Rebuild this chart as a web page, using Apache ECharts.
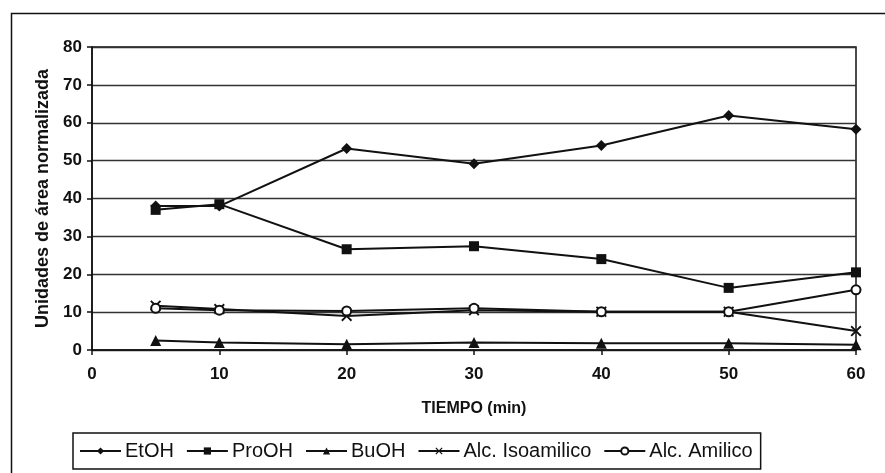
<!DOCTYPE html>
<html>
<head>
<meta charset="utf-8">
<script src="https://cdn.jsdelivr.net/npm/echarts@6/dist/echarts.min.js"></script>
<style>
html,body{margin:0;padding:0;background:#fff;}
#c{width:885px;height:473px;}
</style>
</head>
<body>
<div id="c"></div>
<script>
const times = [5, 10, 20, 30, 40, 50, 60];
const etoh = [38, 38, 53.2, 49.2, 54, 61.9, 58.3];
const prooh = [37, 38.5, 26.6, 27.4, 24, 16.4, 20.5];
const buoh = [2.5, 2.0, 1.5, 2.0, 1.8, 1.8, 1.4];
const isoamilico = [11.7, 10.8, 9.0, 10.5, 10.1, 10.1, 5.0];
const amilico = [11.0, 10.5, 10.3, 11.0, 10.1, 10.1, 15.9];
const xTicks = [0, 10, 20, 30, 40, 50, 60];
const yTicks = [0, 10, 20, 30, 40, 50, 60, 70, 80];

const xPath = 'path://M0,1.2 L1.2,0 L5,3.8 L8.8,0 L10,1.2 L6.2,5 L10,8.8 L8.8,10 L5,6.2 L1.2,10 L0,8.8 L3.8,5 Z';

function pairs(vals){ return times.map((t,i)=>[t, vals[i]]); }
function mk(name, vals, symbol, size){
  return {
    name: name, type: 'line', data: pairs(vals),
    symbol: symbol, symbolSize: size,
    lineStyle: {color: '#111', width: 2},
    itemStyle: {color: '#111', borderColor: '#111', borderWidth: symbol === 'emptyCircle' ? 1.5 : 0},
    emphasis: {disabled: true},
    animation: false, z: 3
  };
}

const chart = echarts.init(document.getElementById('c'), null, {renderer: 'canvas'});
chart.setOption({
  backgroundColor: '#fff',
  animation: false,
  textStyle: {fontFamily: 'Liberation Sans, Arial, sans-serif', color: '#111'},
  graphic: [{
    type: 'rect', left: 9, top: 11, z: -10,
    shape: {width: 900, height: 500},
    style: {fill: 'none', stroke: '#111', lineWidth: 1.5}
  }],
  grid: {left: 92, right: 29, top: 47, bottom: 123, show: true, borderColor: '#111', borderWidth: 1.5, backgroundColor: '#fff'},
  xAxis: {
    type: 'value', min: xTicks[0], max: xTicks[xTicks.length-1], interval: 10,
    name: 'TIEMPO (min)', nameLocation: 'middle', nameGap: 51,
    nameTextStyle: {fontWeight: 'bold', fontSize: 16, color: '#111'},
    axisLine: {show: true, lineStyle: {color: '#111', width: 1.5}},
    axisTick: {show: true, length: 5, lineStyle: {color: '#111', width: 1.5}},
    axisLabel: {fontWeight: 'bold', fontSize: 17, color: '#111', margin: 16},
    splitLine: {show: false}
  },
  yAxis: {
    type: 'value', min: yTicks[0], max: yTicks[yTicks.length-1], interval: 10,
    name: 'Unidades de área normalizada', nameLocation: 'middle', nameGap: 40, nameRotate: 90,
    nameTextStyle: {fontWeight: 'bold', fontSize: 18, color: '#111'},
    axisLine: {show: true, lineStyle: {color: '#111', width: 1.5}},
    axisTick: {show: true, length: 5, lineStyle: {color: '#111', width: 1.5}},
    axisLabel: {fontWeight: 'bold', fontSize: 17, color: '#111', margin: 10},
    splitLine: {show: true, lineStyle: {color: '#333', width: 1.3}}
  },
  legend: {
    left: 73, top: 433,
    padding: [8, 8, 8, 6],
    itemGap: 12, itemWidth: 41, itemHeight: 9,
    borderColor: '#111', borderWidth: 1.5, backgroundColor: '#fff',
    textStyle: {fontSize: 20, color: '#111', padding: [0, 0, 0, -1]},
    data: ['EtOH', 'ProOH', 'BuOH', 'Alc. Isoamilico', 'Alc. Amilico']
  },
  series: [
    mk('EtOH', etoh, 'diamond', 11),
    mk('ProOH', prooh, 'rect', 10),
    mk('BuOH', buoh, 'triangle', 11),
    mk('Alc. Isoamilico', isoamilico, xPath, 11),
    mk('Alc. Amilico', amilico, 'emptyCircle', 9)
  ]
});
</script>
</body>
</html>
